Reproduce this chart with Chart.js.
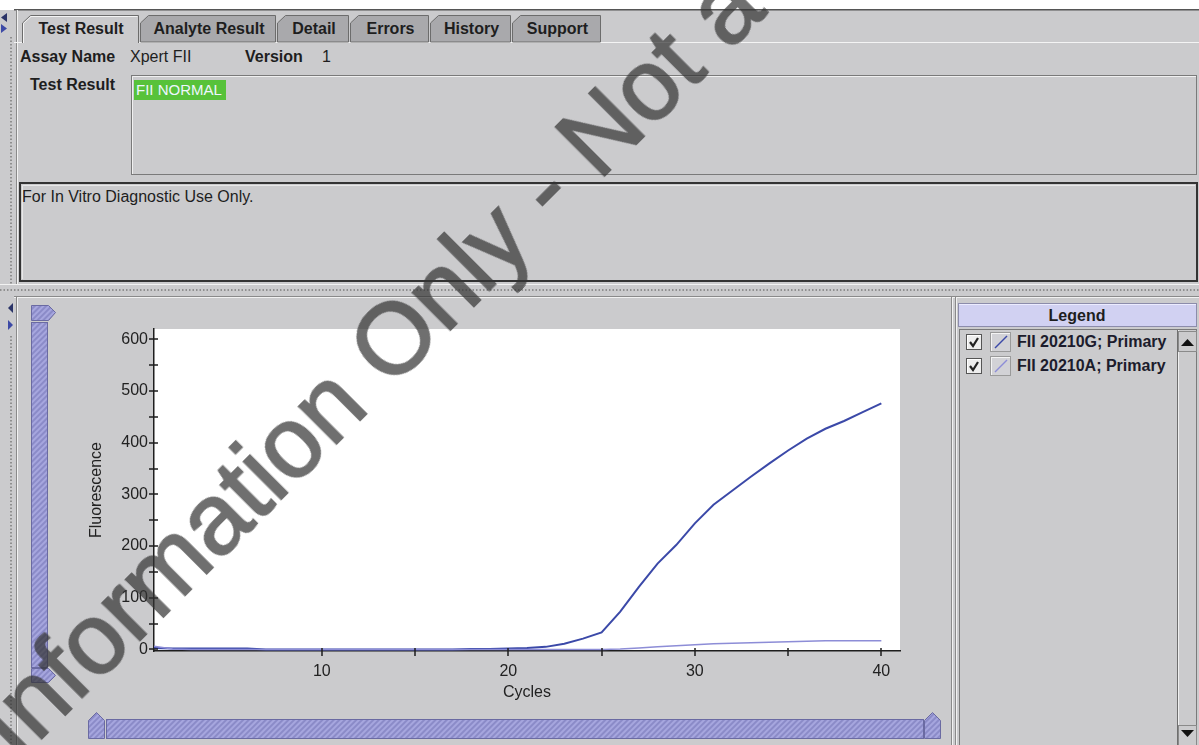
<!DOCTYPE html>
<html><head><meta charset="utf-8">
<script src="https://cdn.jsdelivr.net/npm/chart.js@4/dist/chart.umd.min.js"></script>
<style>
html,body{margin:0;padding:0;}
body{width:1199px;height:745px;position:relative;overflow:hidden;background:#cbcbcd;font-family:"Liberation Sans",Arial,sans-serif;color:#1e1e1e;}
.a{position:absolute;white-space:nowrap;}
.b{font-weight:bold;}
.t16{font-size:16px;line-height:18px;}
#chrome{position:absolute;left:0;top:0;z-index:0;}
#chartBox{position:absolute;left:60px;top:320px;width:850px;height:390px;z-index:2;}
#wm{position:absolute;z-index:5;font-size:100px;line-height:100px;color:#333;-webkit-text-stroke:2px #333;opacity:0.7;transform-origin:0 0;transform:rotate(-45deg);white-space:nowrap;pointer-events:none;font-family:"Liberation Sans",Arial,sans-serif;}
.row{position:absolute;left:966px;height:22px;display:flex;align-items:center;z-index:3;}
.chk{width:14px;height:14px;border:1px solid #555;background:#ededed;position:relative;margin-right:8px;box-shadow:inset 1px 1px 0 #fff;}
.ico{width:19px;height:18px;border:1px solid #9a9a9a;background:#d2d2d6;margin-right:6px;box-shadow:inset 1px 1px 0 #f4f4f4;}
.lt{font-weight:bold;font-size:16px;color:#1c1c2c;}
</style></head><body>

<svg id="chrome" width="1199" height="745" xmlns="http://www.w3.org/2000/svg">
  <defs>
    <pattern id="hatch" width="4" height="4" patternUnits="userSpaceOnUse" patternTransform="rotate(45)">
      <rect width="4" height="4" fill="#a6a6de"/><rect width="2" height="4" fill="#8b8bc8"/>
    </pattern>
  </defs>
  <rect x="0" y="0" width="1199" height="10" fill="#ffffff"/>
  <rect x="14" y="9" width="1185" height="1.5" fill="#555"/>
  <polygon points="7,13 7,22 1,17.5" fill="#2b3468"/>
  <polygon points="1,24 1,33 7,28.5" fill="#3d4aa6"/>
  <line x1="11" y1="37" x2="11" y2="285" stroke="#8f8f8f" stroke-width="2" stroke-dasharray="1.5 2"/>
  <line x1="16.5" y1="10" x2="16.5" y2="285" stroke="#8a8a8a"/>
  <line x1="17.5" y1="10" x2="17.5" y2="285" stroke="#f2f2f2"/>
  <line x1="14" y1="42.5" x2="1199" y2="42.5" stroke="#f4f4f4"/>
  <g stroke="#6c6c6c" stroke-width="1">
    <path d="M140.5,42 L140.5,23 L148.5,15.5 L275.5,15.5 L275.5,42 Z" fill="#a9a9ac"/>
    <path d="M277.5,42 L277.5,23 L285.5,15.5 L348.5,15.5 L348.5,42 Z" fill="#a9a9ac"/>
    <path d="M350.5,42 L350.5,23 L358.5,15.5 L428.5,15.5 L428.5,42 Z" fill="#a9a9ac"/>
    <path d="M430.5,42 L430.5,23 L438.5,15.5 L510.5,15.5 L510.5,42 Z" fill="#a9a9ac"/>
    <path d="M512.5,42 L512.5,23 L520.5,15.5 L600.5,15.5 L600.5,42 Z" fill="#a9a9ac"/>
    <path d="M22.5,43 L22.5,23 L30.5,15.5 L138.5,15.5 L138.5,43" fill="#cbcbcd"/>
  </g>
  <path d="M23.5,43 L23.5,23.5 L31,16.5 L137.5,16.5" fill="none" stroke="#f4f4f4"/>
  <rect x="131.5" y="75.5" width="1065" height="99" fill="none" stroke="#7a7a7a"/>
  <path d="M132.5,174 L132.5,76.5 L1196,76.5" fill="none" stroke="#f0f0f0"/>
  <rect x="20" y="183" width="1177" height="98" fill="none" stroke="#333" stroke-width="2"/>
  <path d="M22.5,279 L22.5,185.5 L1195,185.5" fill="none" stroke="#e8e8e8"/>
  <line x1="0" y1="284.5" x2="1199" y2="284.5" stroke="#f2f2f2"/>
  <line x1="0" y1="290" x2="1199" y2="290" stroke="#8f8f8f" stroke-width="2" stroke-dasharray="1.5 2"/>
  <line x1="14" y1="296.5" x2="1199" y2="296.5" stroke="#8a8a8a"/>
  <line x1="14" y1="297.5" x2="1199" y2="297.5" stroke="#f2f2f2"/>
  <polygon points="13,303 13,313 8,308" fill="#2b3468"/>
  <polygon points="8,320 8,330 13,325" fill="#3d4aa6"/>
  <line x1="11" y1="336" x2="11" y2="745" stroke="#8f8f8f" stroke-width="2" stroke-dasharray="1.5 2"/>
  <line x1="16.5" y1="297" x2="16.5" y2="745" stroke="#8a8a8a"/>
  <line x1="17.5" y1="297" x2="17.5" y2="745" stroke="#f2f2f2"/>
  <g stroke="#6a6aa2" stroke-width="1">
    <polygon points="31.5,305.5 48.5,305.5 55.5,312.5 48.5,320.5 31.5,320.5" fill="url(#hatch)"/>
    <rect x="31.5" y="322.5" width="16" height="345" fill="url(#hatch)"/>
    <polygon points="31.5,668.5 48.5,668.5 55.5,675.5 48.5,682.5 31.5,682.5" fill="url(#hatch)"/>
    <polygon points="88.5,738.5 88.5,720.5 96.5,712.5 104.5,720.5 104.5,738.5" fill="url(#hatch)"/>
    <rect x="106.5" y="719.5" width="817" height="19" fill="url(#hatch)"/>
    <polygon points="924.5,738.5 924.5,720.5 932.5,712.5 940.5,720.5 940.5,738.5" fill="url(#hatch)"/>
  </g>
  <line x1="951.5" y1="297" x2="951.5" y2="745" stroke="#8a8a8a"/>
  <line x1="952.5" y1="297" x2="952.5" y2="745" stroke="#f2f2f2"/>
  <line x1="955.5" y1="297" x2="955.5" y2="745" stroke="#8a8a8a"/>
  <line x1="956.5" y1="297" x2="956.5" y2="745" stroke="#f2f2f2"/>
  <rect x="958.5" y="303.5" width="238" height="23" fill="#d1d1f2" stroke="#8c8cab"/>
  <line x1="959" y1="304.5" x2="1196" y2="304.5" stroke="#ececff"/>
  <rect x="959.5" y="329.5" width="237" height="420" fill="none" stroke="#7a7a7a"/>
  <line x1="1177.5" y1="330" x2="1177.5" y2="745" stroke="#6f6f6f"/>
  <line x1="1178.5" y1="330" x2="1178.5" y2="745" stroke="#f0f0f0"/>
  <rect x="1178.5" y="331.5" width="18" height="20" fill="#cbcbcd" stroke="#8a8a8a"/>
  <polygon points="1181,346 1194,346 1187.5,339" fill="#111"/>
  <rect x="1178.5" y="725.5" width="18" height="20" fill="#cbcbcd" stroke="#8a8a8a"/>
  <polygon points="1181,730 1194,730 1187.5,737" fill="#111"/>
</svg>

<div class="a b t16" style="left:24px;top:20px;width:114px;text-align:center;z-index:1">Test Result</div>
<div class="a b t16" style="left:143px;top:20px;width:132px;text-align:center;z-index:1">Analyte Result</div>
<div class="a b t16" style="left:280px;top:20px;width:68px;text-align:center;z-index:1">Detail</div>
<div class="a b t16" style="left:353px;top:20px;width:75px;text-align:center;z-index:1">Errors</div>
<div class="a b t16" style="left:433px;top:20px;width:77px;text-align:center;z-index:1">History</div>
<div class="a b t16" style="left:515px;top:20px;width:85px;text-align:center;z-index:1">Support</div>

<div class="a b t16" style="left:20px;top:48px;z-index:1">Assay Name</div>
<div class="a t16" style="left:130px;top:48px;z-index:1">Xpert FII</div>
<div class="a b t16" style="left:245px;top:48px;z-index:1">Version</div>
<div class="a t16" style="left:322px;top:48px;z-index:1">1</div>
<div class="a b t16" style="left:30px;top:76px;z-index:1">Test Result</div>
<div class="a" style="left:134px;top:80px;width:92px;height:20px;background:#57c23a;color:#eef6ff;font-size:15px;line-height:20px;padding-left:2px;box-sizing:border-box;z-index:1">FII NORMAL</div>
<div class="a t16" style="left:22px;top:188px;z-index:1">For In Vitro Diagnostic Use Only.</div>

<div class="a b t16" style="left:958px;top:307px;width:238px;text-align:center;z-index:1">Legend</div>
<div id="legendRows"></div>

<div id="chartBox"><canvas id="c" width="850" height="390"></canvas></div>

<div id="wm" style="left:-43px;top:703px">Information Only - Not a</div>

<script>
// ---- data ----
const cycles = [1,2,3,4,5,6,7,8,9,10,11,12,13,14,15,16,17,18,19,20,21,22,23,24,25,26,27,28,29,30,31,32,33,34,35,36,37,38,39,40];
const fii20210G = [3,2,2,2,2,2,0,0,0,0,0,0,0,0,0,0,0,1,1,2,3,5,11,21,33,73,121,166,202,244,280,307,334,360,385,408,427,442,459,476];
const fii20210A = [6,1,0,0,0,0,0,0,0,0,0,0,0,0,0,0,0,0,0,0,0,0,0,0,0,1,3,5,7,9,11,12,13,14,15,16,17,17,17,17];
const seriesNames = ["FII 20210G; Primary","FII 20210A; Primary"];
const seriesColors = ["#3b49a8","#8d8dd7"];
const yTickValues = [0,100,200,300,400,500,600];
const yMinorTicks = [50,150,250,350,450,550];
const xTickValues = [10,20,30,40];
const xMinorTicks = [15,25,35];
const xTitle = "Cycles";
const yTitle = "Fluorescence";

const plotBg = {
  id:'plotBg',
  beforeDraw(chart){
    const {ctx, chartArea:a} = chart;
    ctx.save(); ctx.fillStyle='#ffffff';
    ctx.fillRect(a.left, a.top, a.right-a.left, a.bottom-a.top);
    ctx.restore();
  }
};
const tickMarks = {
  id:'tickMarks',
  afterDraw(chart){
    const {ctx, chartArea:a, scales:{x,y}} = chart;
    ctx.save(); ctx.strokeStyle='#1e1e1e'; ctx.lineWidth=1.5; ctx.beginPath();
    xTickValues.concat(xMinorTicks).forEach(v=>{
      const px = Math.round(x.getPixelForValue(v));
      ctx.moveTo(px, a.bottom-3); ctx.lineTo(px, a.bottom+5);
    });
    yTickValues.concat(yMinorTicks).forEach(v=>{
      const py = Math.round(y.getPixelForValue(v));
      ctx.moveTo(a.left-5, py); ctx.lineTo(a.left+4, py);
    });
    ctx.stroke(); ctx.restore();
  }
};
const noPad = s=>{s.paddingTop=0;s.paddingBottom=0;s.paddingLeft=0;s.paddingRight=0;};

const fontBase = {family:'"Liberation Sans", Arial, sans-serif', size:16};
const chart = new Chart(document.getElementById('c'), {
  type:'line',
  data:{
    datasets:[
      {label:seriesNames[0], data:cycles.map((c,i)=>({x:c,y:fii20210G[i]})), borderColor:seriesColors[0], borderWidth:2, pointRadius:0, tension:0, fill:false, order:1},
      {label:seriesNames[1], data:cycles.map((c,i)=>({x:c,y:fii20210A[i]})), borderColor:seriesColors[1], borderWidth:1.5, pointRadius:0, tension:0, fill:false, order:0}
    ]
  },
  options:{
    responsive:false, animation:false, devicePixelRatio:1,
    layout:{padding:{top:9,right:10,left:0,bottom:0}},
    plugins:{legend:{display:false}, tooltip:{enabled:false}},
    scales:{
      x:{type:'linear', min:1, max:41,
         afterBuildTicks:s=>{s.ticks = xTickValues.map(v=>({value:v}));},
         afterFit:s=>{s.height=59; noPad(s);},
         grid:{display:false, drawTicks:false},
         border:{display:true, color:'#1e1e1e', width:1.5},
         ticks:{font:fontBase, color:'#222', padding:11, maxRotation:0},
         title:{display:true, text:xTitle, font:fontBase, color:'#222', padding:{top:0,bottom:8}}
      },
      y:{type:'linear', min:-3, max:620,
         afterBuildTicks:s=>{s.ticks = yTickValues.map(v=>({value:v}));},
         afterFit:s=>{s.width=94; noPad(s);},
         grid:{display:false, drawTicks:false},
         border:{display:true, color:'#1e1e1e', width:1.5},
         ticks:{font:fontBase, color:'#222', padding:6},
         title:{display:true, text:yTitle, font:fontBase, color:'#222', padding:{top:27,bottom:0}}
      }
    }
  },
  plugins:[plotBg, tickMarks]
});

const rows = document.getElementById('legendRows');
chart.data.datasets.forEach((ds,i)=>{
  const r = document.createElement('div');
  r.className='row'; r.style.top=(331+i*24)+'px';
  r.innerHTML = '<div class="chk"><svg width="14" height="14" style="position:absolute;left:0;top:0"><path d="M3,7 L6,11 L11,3" stroke="#222" stroke-width="2.2" fill="none"/></svg></div>'+
    '<div class="ico"><svg width="19" height="18"><line x1="4" y1="15" x2="16" y2="3" stroke="'+ds.borderColor+'" stroke-width="1.5"/></svg></div>'+
    '<span class="lt"></span>';
  r.querySelector('.lt').textContent = ds.label;
  rows.appendChild(r);
});
</script>
</body></html>
